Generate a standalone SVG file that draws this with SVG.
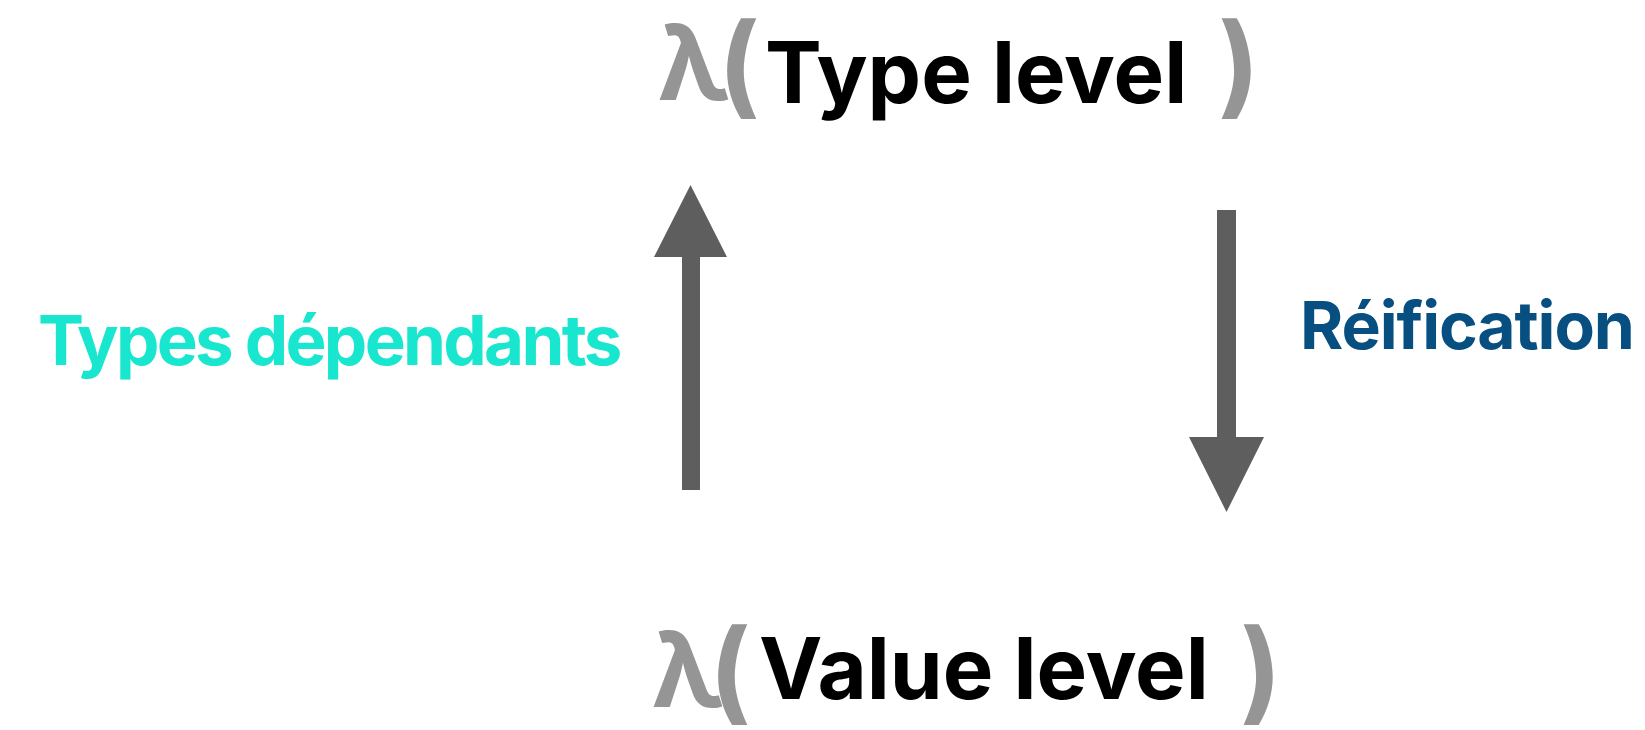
<svg xmlns="http://www.w3.org/2000/svg" width="1645" height="730" viewBox="0 0 1645 730">
  <style>
    .lam { font-family: Inter, "Liberation Sans", sans-serif; font-weight: 700; fill: #959595; font-size: 104px; }
    .paren { font-family: Inter, "Liberation Sans", sans-serif; font-weight: 700; fill: #959595; font-size: 111px; }
    .level { font-family: Inter, "Liberation Sans", sans-serif; font-weight: 700; fill: #000000; font-size: 85px; }
    .label { font-family: Inter, "Liberation Sans", sans-serif; font-weight: 700; }
    .arrow { fill: #5e5e5e; }
  </style>
  <rect width="1645" height="730" fill="#ffffff"/>

  <!-- type level node -->
  <g id="type-level">
    <text class="lam" x="658" y="100">λ</text>
    <text class="paren" x="718" y="104">(</text>
    <text class="level" x="765" y="103">Type level</text>
    <text class="paren" x="1218" y="104">)</text>
  </g>

  <!-- value level node -->
  <g id="value-level">
    <text class="lam" x="652" y="707">λ</text>
    <text class="paren" x="709" y="710">(</text>
    <text class="level" x="759" y="699" font-size="86">Value level</text>
    <text class="paren" x="1240" y="710">)</text>
  </g>

  <!-- edge labels -->
  <g id="label-dependent">
    <text class="label" x="38" y="365" font-size="69" letter-spacing="-2.7" fill="#19e6cf">Types dépendants</text>
  </g>
  <g id="label-reification">
    <text class="label" x="1300" y="349" font-size="66" letter-spacing="-1.1" fill="#064f80">Réification</text>
  </g>

  <!-- connectors -->
  <g id="connectors">
    <path class="arrow" d="M682 490 V257 H654 L690.5 185 L727 257 H700 V490 Z"/>
    <path class="arrow" d="M1217 210 H1236 V437 H1264 L1226.5 512 L1189 437 H1217 Z"/>
  </g>
</svg>
